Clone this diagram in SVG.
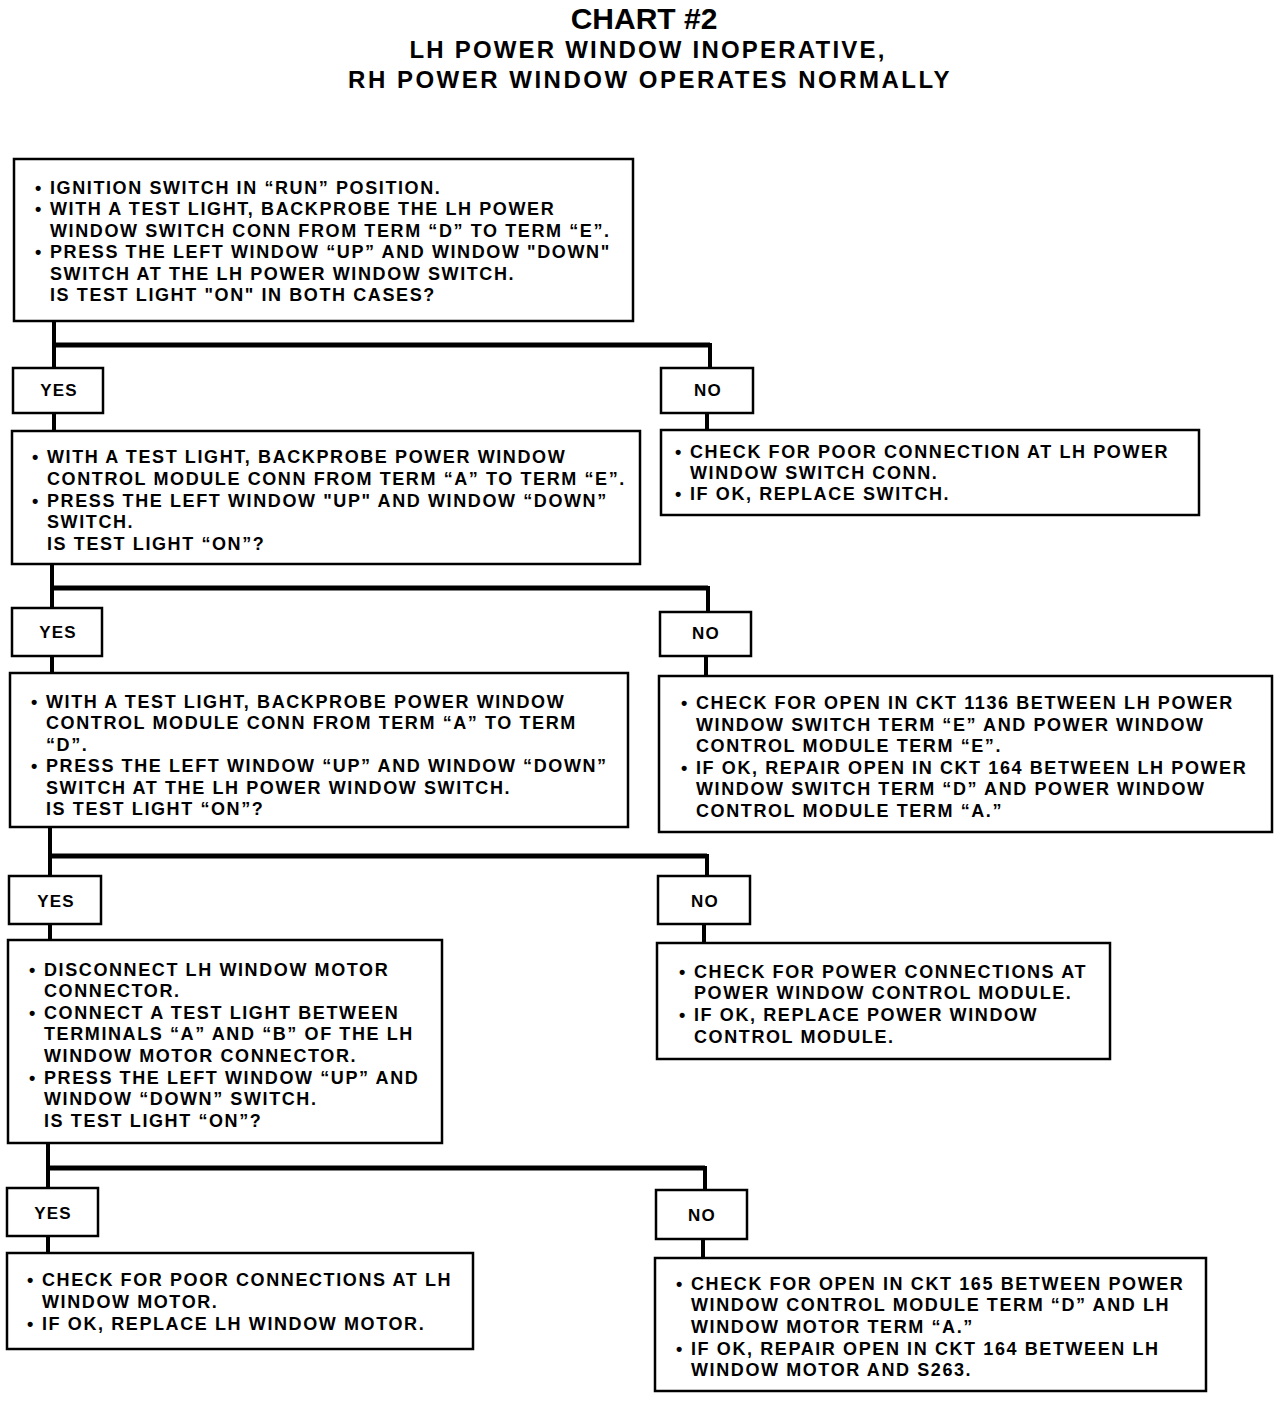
<svg xmlns="http://www.w3.org/2000/svg" width="1280" height="1402" viewBox="0 0 1280 1402">
<style>
.box{fill:#fff;stroke:#000;stroke-width:2.5}
.t{font-family:"Liberation Sans",Arial,sans-serif;font-weight:bold;font-size:18px;letter-spacing:1.6px;fill:#000}
.lbl{font-family:"Liberation Sans",Arial,sans-serif;font-weight:bold;font-size:17px;letter-spacing:1.2px;fill:#000;text-anchor:middle}
.h{font-family:"Liberation Sans",Arial,sans-serif;font-weight:bold;fill:#000;text-anchor:middle}
.c{fill:none;stroke:#000;stroke-width:4;stroke-linecap:square}
.ch{fill:none;stroke:#000;stroke-width:5}
</style>
<rect width="1280" height="1402" fill="#fff"/>
<g id="title">
<text class="h" x="644" y="29" font-size="30">CHART #2</text>
<text class="h" x="648" y="58" font-size="24" letter-spacing="2.2">LH POWER WINDOW INOPERATIVE,</text>
<text class="h" x="650" y="88" font-size="24" letter-spacing="2.5">RH POWER WINDOW OPERATES NORMALLY</text>
</g>
<g id="connectors">
<path class="c" d="M54 321V368M54 345H710V368M54 413V431M707 413V430"/>
<path class="ch" d="M54 345H710"/>
<path class="c" d="M52 564V608M52 588H708V612M52 656V673M706 656V676"/>
<path class="ch" d="M52 588H708"/>
<path class="c" d="M50 827V876M50 856H707V876M50 924V940M704 924V943"/>
<path class="ch" d="M50 856H707"/>
<path class="c" d="M48 1143V1188M48 1168H705V1190M48 1236V1253M703 1239V1258"/>
<path class="ch" d="M48 1168H705"/>
</g>
<g id="q1">
<rect class="box" x="14" y="159" width="619" height="162"/>
<text class="t" x="35" y="194">•</text><text class="t" x="50" y="194">IGNITION SWITCH IN “RUN” POSITION.</text>
<text class="t" x="35" y="215">•</text><text class="t" x="50" y="215">WITH A TEST LIGHT, BACKPROBE THE LH POWER</text>
<text class="t" x="50" y="237">WINDOW SWITCH CONN FROM TERM “D” TO TERM “E”.</text>
<text class="t" x="35" y="258">•</text><text class="t" x="50" y="258">PRESS THE LEFT WINDOW “UP” AND WINDOW "DOWN"</text>
<text class="t" x="50" y="280">SWITCH AT THE LH POWER WINDOW SWITCH.</text>
<text class="t" x="50" y="301">IS TEST LIGHT "ON" IN BOTH CASES?</text>
</g>
<g id="yes1"><rect class="box" x="13" y="368" width="90" height="45"/><text class="lbl" x="59" y="396">YES</text></g>
<g id="no1"><rect class="box" x="661" y="368" width="92" height="45"/><text class="lbl" x="708" y="396">NO</text></g>
<g id="r1">
<rect class="box" x="661" y="430" width="538" height="85"/>
<text class="t" x="675" y="458">•</text><text class="t" x="690" y="458">CHECK FOR POOR CONNECTION AT LH POWER</text>
<text class="t" x="690" y="479">WINDOW SWITCH CONN.</text>
<text class="t" x="675" y="500">•</text><text class="t" x="690" y="500">IF OK, REPLACE SWITCH.</text>
</g>
<g id="q2">
<rect class="box" x="12" y="431" width="628" height="133"/>
<text class="t" x="32" y="463">•</text><text class="t" x="47" y="463">WITH A TEST LIGHT, BACKPROBE POWER WINDOW</text>
<text class="t" x="47" y="485">CONTROL MODULE CONN FROM TERM “A” TO TERM “E”.</text>
<text class="t" x="32" y="507">•</text><text class="t" x="47" y="507">PRESS THE LEFT WINDOW "UP" AND WINDOW “DOWN”</text>
<text class="t" x="47" y="528">SWITCH.</text>
<text class="t" x="47" y="550">IS TEST LIGHT “ON”?</text>
</g>
<g id="yes2"><rect class="box" x="12" y="608" width="90" height="48"/><text class="lbl" x="58" y="638">YES</text></g>
<g id="no2"><rect class="box" x="660" y="612" width="91" height="44"/><text class="lbl" x="706" y="639">NO</text></g>
<g id="r2">
<rect class="box" x="659" y="676" width="613" height="156"/>
<text class="t" x="681" y="709">•</text><text class="t" x="696" y="709">CHECK FOR OPEN IN CKT 1136 BETWEEN LH POWER</text>
<text class="t" x="696" y="731">WINDOW SWITCH TERM “E” AND POWER WINDOW</text>
<text class="t" x="696" y="752">CONTROL MODULE TERM “E”.</text>
<text class="t" x="681" y="774">•</text><text class="t" x="696" y="774">IF OK, REPAIR OPEN IN CKT 164 BETWEEN LH POWER</text>
<text class="t" x="696" y="795">WINDOW SWITCH TERM “D” AND POWER WINDOW</text>
<text class="t" x="696" y="817">CONTROL MODULE TERM “A.”</text>
</g>
<g id="q3">
<rect class="box" x="10" y="673" width="618" height="154"/>
<text class="t" x="31" y="708">•</text><text class="t" x="46" y="708">WITH A TEST LIGHT, BACKPROBE POWER WINDOW</text>
<text class="t" x="46" y="729">CONTROL MODULE CONN FROM TERM “A” TO TERM</text>
<text class="t" x="46" y="751">“D”.</text>
<text class="t" x="31" y="772">•</text><text class="t" x="46" y="772">PRESS THE LEFT WINDOW “UP” AND WINDOW “DOWN”</text>
<text class="t" x="46" y="794">SWITCH AT THE LH POWER WINDOW SWITCH.</text>
<text class="t" x="46" y="815">IS TEST LIGHT “ON”?</text>
</g>
<g id="yes3"><rect class="box" x="9" y="876" width="92" height="48"/><text class="lbl" x="56" y="907">YES</text></g>
<g id="no3"><rect class="box" x="658" y="876" width="92" height="48"/><text class="lbl" x="705" y="907">NO</text></g>
<g id="r3">
<rect class="box" x="657" y="943" width="453" height="116"/>
<text class="t" x="679" y="978">•</text><text class="t" x="694" y="978">CHECK FOR POWER CONNECTIONS AT</text>
<text class="t" x="694" y="999">POWER WINDOW CONTROL MODULE.</text>
<text class="t" x="679" y="1021">•</text><text class="t" x="694" y="1021">IF OK, REPLACE POWER WINDOW</text>
<text class="t" x="694" y="1043">CONTROL MODULE.</text>
</g>
<g id="q4">
<rect class="box" x="8" y="940" width="434" height="203"/>
<text class="t" x="29" y="976">•</text><text class="t" x="44" y="976">DISCONNECT LH WINDOW MOTOR</text>
<text class="t" x="44" y="997">CONNECTOR.</text>
<text class="t" x="29" y="1019">•</text><text class="t" x="44" y="1019">CONNECT A TEST LIGHT BETWEEN</text>
<text class="t" x="44" y="1040">TERMINALS “A” AND “B” OF THE LH</text>
<text class="t" x="44" y="1062">WINDOW MOTOR CONNECTOR.</text>
<text class="t" x="29" y="1084">•</text><text class="t" x="44" y="1084">PRESS THE LEFT WINDOW “UP” AND</text>
<text class="t" x="44" y="1105">WINDOW “DOWN” SWITCH.</text>
<text class="t" x="44" y="1127">IS TEST LIGHT “ON”?</text>
</g>
<g id="yes4"><rect class="box" x="7" y="1188" width="91" height="48"/><text class="lbl" x="53" y="1219">YES</text></g>
<g id="no4"><rect class="box" x="656" y="1190" width="91" height="49"/><text class="lbl" x="702" y="1221">NO</text></g>
<g id="r4">
<rect class="box" x="7" y="1253" width="466" height="96"/>
<text class="t" x="27" y="1286">•</text><text class="t" x="42" y="1286">CHECK FOR POOR CONNECTIONS AT LH</text>
<text class="t" x="42" y="1308">WINDOW MOTOR.</text>
<text class="t" x="27" y="1330">•</text><text class="t" x="42" y="1330">IF OK, REPLACE LH WINDOW MOTOR.</text>
</g>
<g id="r5">
<rect class="box" x="655" y="1258" width="551" height="133"/>
<text class="t" x="676" y="1290">•</text><text class="t" x="691" y="1290">CHECK FOR OPEN IN CKT 165 BETWEEN POWER</text>
<text class="t" x="691" y="1311">WINDOW CONTROL MODULE TERM “D” AND LH</text>
<text class="t" x="691" y="1333">WINDOW MOTOR TERM “A.”</text>
<text class="t" x="676" y="1355">•</text><text class="t" x="691" y="1355">IF OK, REPAIR OPEN IN CKT 164 BETWEEN LH</text>
<text class="t" x="691" y="1376">WINDOW MOTOR AND S263.</text>
</g>
</svg>
